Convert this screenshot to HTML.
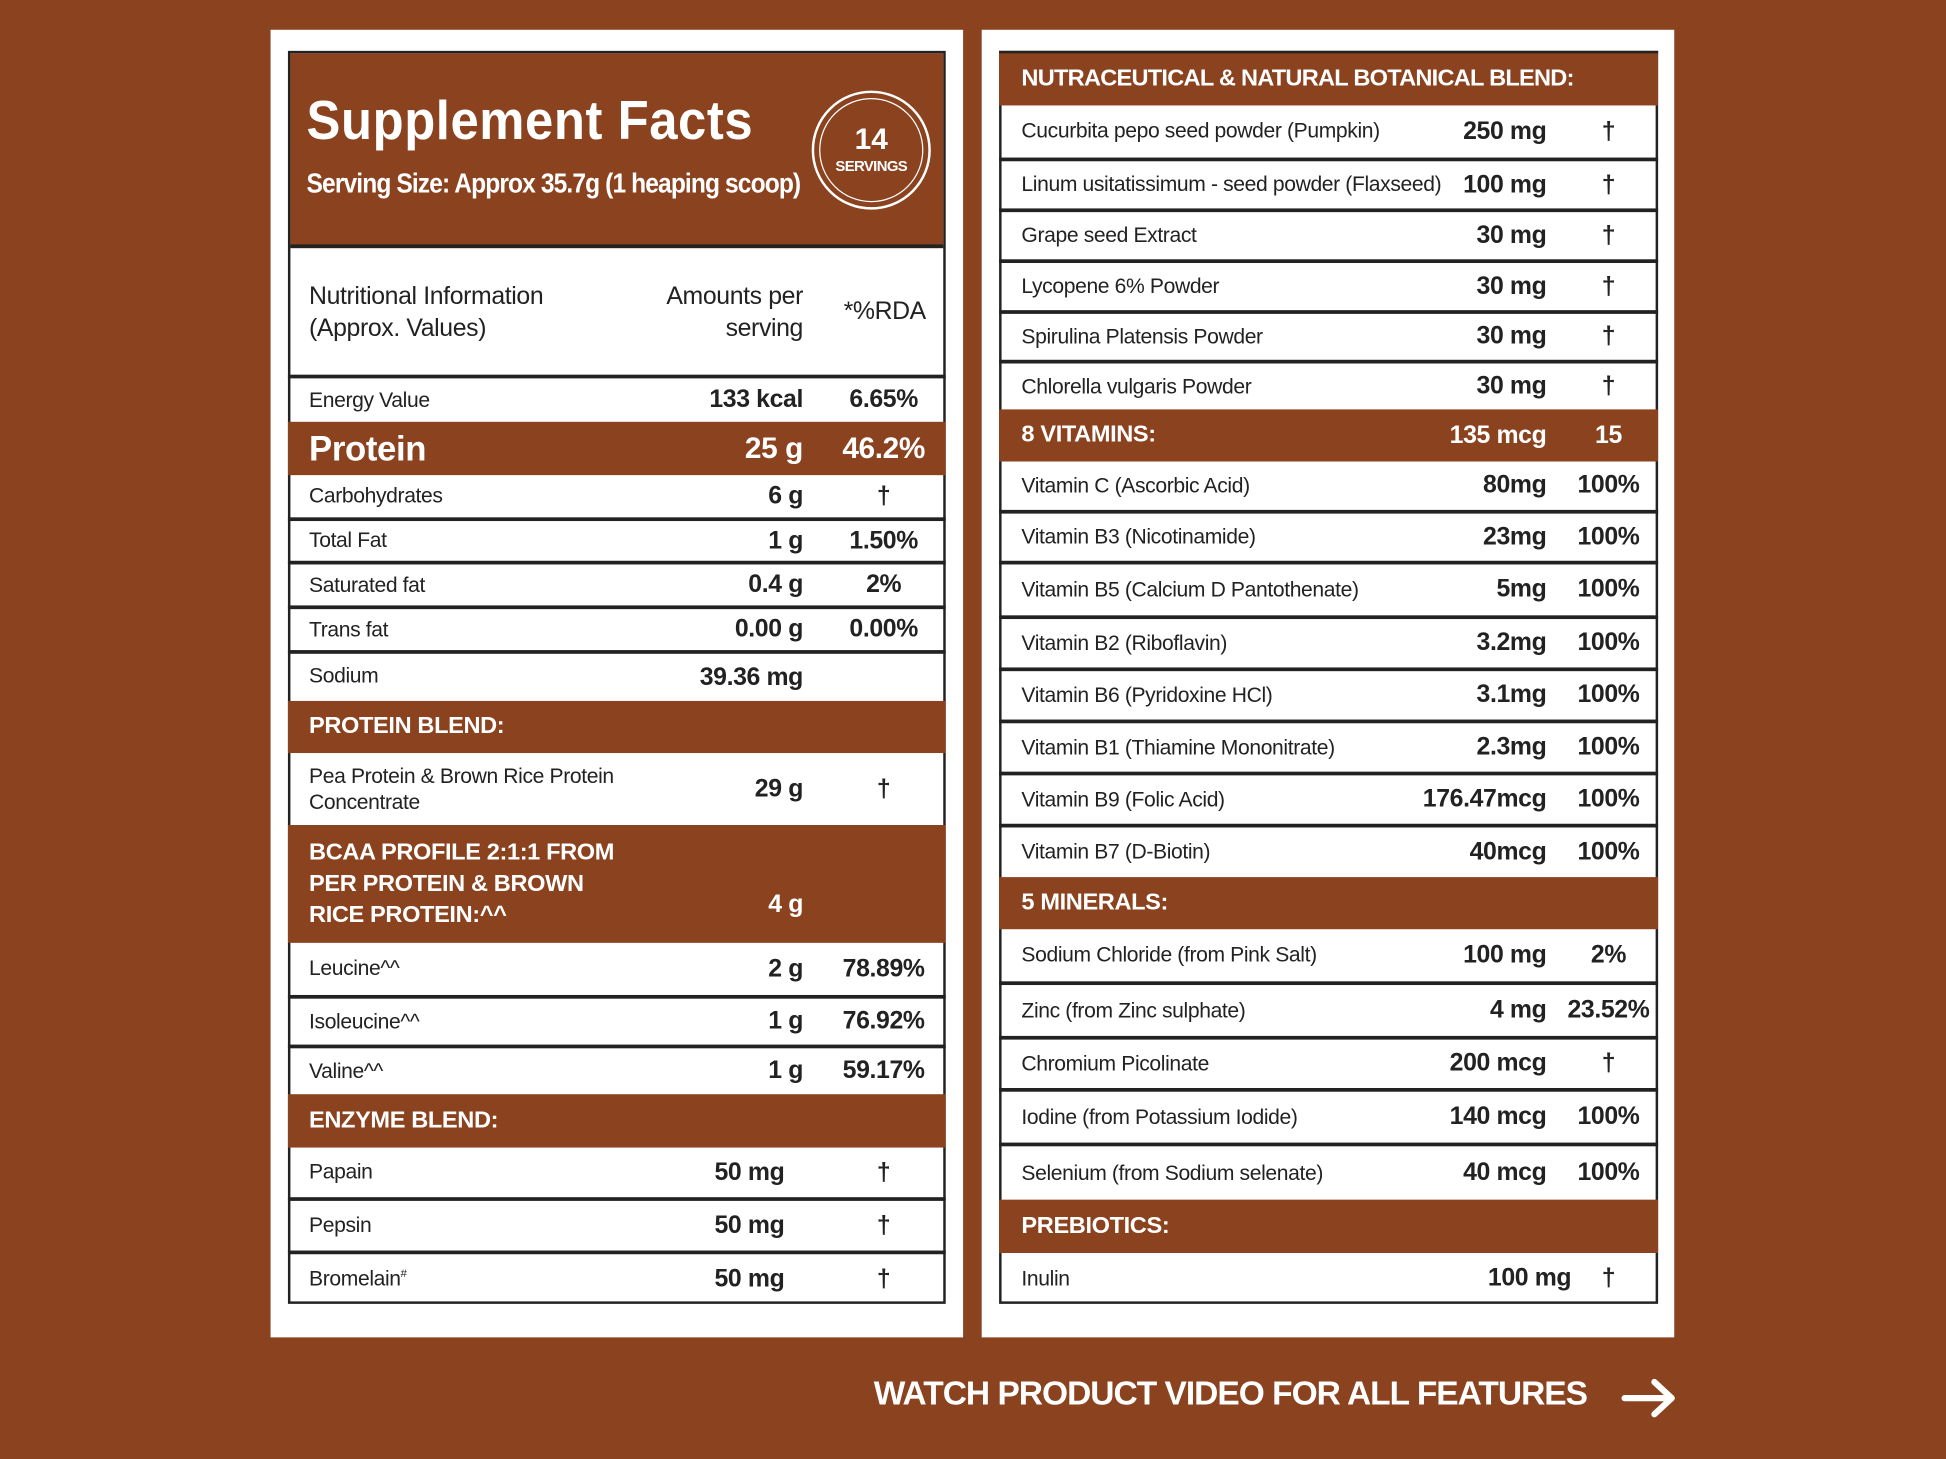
<!DOCTYPE html>
<html><head><meta charset="utf-8"><style>
*{margin:0;padding:0;box-sizing:border-box}
body{width:1946px;height:1459px;overflow:hidden;background:#8a421f;font-family:"Liberation Sans",sans-serif}
#w{position:absolute;left:0;top:0;width:1568px;height:1176px;transform:scale(1.2411,1.2406);transform-origin:0 0}
.panel{position:absolute;background:#fff;top:24px;height:1054px;width:558px}
.t{position:absolute;top:41px;height:1010px;border:2px solid #222;background:#fff}
.r{position:absolute;left:0;right:0;display:flex;align-items:center;border-top:3px solid #222;color:#222;font-size:17px;letter-spacing:-0.3px}
.b{background:#8a421f;color:#fff;font-weight:bold;font-size:19px;border-top:none}
.l{position:absolute}
.a{position:absolute;font-weight:bold;font-size:20px;text-align:right}
.p{position:absolute;font-weight:bold;font-size:20px;text-align:center}
</style></head><body><div id="w">
<div class="panel" style="left:218px"></div>
<div class="panel" style="left:791px"></div>

<!-- LEFT -->
<div class="t" style="left:232px;width:530px">
 <div style="position:absolute;left:0;right:0;top:0;height:157px;background:#8a421f;border-bottom:3px solid #222"></div>
 <div style="position:absolute;left:13px;top:30px;color:#fff;font-weight:bold;font-size:44px;letter-spacing:0.5px;transform:scaleX(0.93);transform-origin:0 0;white-space:nowrap">Supplement Facts</div>
 <div style="position:absolute;left:13px;top:92px;color:#fff;font-weight:bold;font-size:22px;letter-spacing:-0.8px;transform:scaleX(0.9);transform-origin:0 0;white-space:nowrap">Serving Size: Approx 35.7g (1 heaping scoop)</div>
 <div style="position:absolute;left:420px;top:30px;width:96px;height:96px;border-radius:50%;border:2px solid #fff;padding:4px"><div style="width:100%;height:100%;border-radius:50%;border:1.5px solid #fff;color:#fff;text-align:center;font-weight:bold"><div style="font-size:24px;margin-top:19px">14</div><div style="font-size:12px;letter-spacing:-0.5px">SERVINGS</div></div></div>
</div>
<div style="position:absolute;left:232px;width:530px;top:0">
 <div class="r" style="top:198px;height:104px;font-size:20px;border-top:none"><span class="l" style="left:17px;top:28px;line-height:26px">Nutritional Information<br>(Approx. Values)</span><span class="l" style="right:115px;top:28px;line-height:26px;text-align:right">Amounts per<br>serving</span><span class="l" style="right:16px;top:42px">*%RDA</span></div>
 <div class="r" style="top:302px;height:38px"><span class="l" style="left:17px">Energy Value</span><span class="a" style="right:115px">133 kcal</span><span class="p" style="right:10px;width:80px">6.65%</span></div>
 <div class="r b" style="top:340px;height:43px;font-size:28px"><span class="l" style="left:17px">Protein</span><span class="a" style="right:115px;font-size:24px">25 g</span><span class="p" style="right:10px;width:80px;font-size:24px">46.2%</span></div>
 <div class="r" style="top:383px;height:34px;border-top:none"><span class="l" style="left:17px">Carbohydrates</span><span class="a" style="right:115px">6 g</span><span class="p" style="right:10px;width:80px">†</span></div>
 <div class="r" style="top:417px;height:35px"><span class="l" style="left:17px">Total Fat</span><span class="a" style="right:115px">1 g</span><span class="p" style="right:10px;width:80px">1.50%</span></div>
 <div class="r" style="top:452px;height:36px"><span class="l" style="left:17px">Saturated fat</span><span class="a" style="right:115px">0.4 g</span><span class="p" style="right:10px;width:80px">2%</span></div>
 <div class="r" style="top:488px;height:36px"><span class="l" style="left:17px">Trans fat</span><span class="a" style="right:115px">0.00 g</span><span class="p" style="right:10px;width:80px">0.00%</span></div>
 <div class="r" style="top:524px;height:41px"><span class="l" style="left:17px;top:8px">Sodium</span><span class="a" style="right:115px">39.36 mg</span></div>
 <div class="r b" style="top:565px;height:42px"><span class="l" style="left:17px">PROTEIN BLEND:</span></div>
 <div class="r" style="top:607px;height:58px;border-top:none"><span class="l" style="left:17px;line-height:21px">Pea Protein &amp; Brown Rice Protein<br>Concentrate</span><span class="a" style="right:115px">29 g</span><span class="p" style="right:10px;width:80px">†</span></div>
 <div class="r b" style="top:665px;height:95px"><span class="l" style="left:17px;line-height:25px">BCAA PROFILE 2:1:1 FROM<br>PER PROTEIN &amp; BROWN<br>RICE PROTEIN:^^</span><span class="a" style="right:115px;top:53px">4 g</span></div>
 <div class="r" style="top:760px;height:42px;border-top:none"><span class="l" style="left:17px">Leucine^^</span><span class="a" style="right:115px">2 g</span><span class="p" style="right:10px;width:80px">78.89%</span></div>
 <div class="r" style="top:802px;height:40px"><span class="l" style="left:17px">Isoleucine^^</span><span class="a" style="right:115px">1 g</span><span class="p" style="right:10px;width:80px">76.92%</span></div>
 <div class="r" style="top:842px;height:40px"><span class="l" style="left:17px">Valine^^</span><span class="a" style="right:115px">1 g</span><span class="p" style="right:10px;width:80px">59.17%</span></div>
 <div class="r b" style="top:882px;height:43px"><span class="l" style="left:17px">ENZYME BLEND:</span></div>
 <div class="r" style="top:925px;height:40px;border-top:none"><span class="l" style="left:17px">Papain</span><span class="a" style="right:130px">50 mg</span><span class="p" style="right:10px;width:80px">†</span></div>
 <div class="r" style="top:965px;height:43px"><span class="l" style="left:17px">Pepsin</span><span class="a" style="right:130px">50 mg</span><span class="p" style="right:10px;width:80px">†</span></div>
 <div class="r" style="top:1008px;height:43px"><span class="l" style="left:17px">Bromelain<sup style="font-size:9px">#</sup></span><span class="a" style="right:130px">50 mg</span><span class="p" style="right:10px;width:80px">†</span></div>
</div>

<!-- RIGHT -->
<div class="t" style="left:805px;width:531px"></div>
<div style="position:absolute;left:805px;width:531px;top:0">
 <div class="r b" style="top:41px;height:44px;border-top:2px solid #222"><span class="l" style="left:18px;letter-spacing:-0.6px">NUTRACEUTICAL &amp; NATURAL BOTANICAL BLEND:</span></div>
 <div class="r" style="top:85px;height:42px;border-top:none"><span class="l" style="left:18px">Cucurbita pepo seed powder (Pumpkin)</span><span class="a" style="right:90px">250 mg</span><span class="p" style="right:0;width:80px">†</span></div>
 <div class="r" style="top:127px;height:41px"><span class="l" style="left:18px">Linum usitatissimum - seed powder (Flaxseed)</span><span class="a" style="right:90px">100 mg</span><span class="p" style="right:0;width:80px">†</span></div>
 <div class="r" style="top:168px;height:41px"><span class="l" style="left:18px">Grape seed Extract</span><span class="a" style="right:90px">30 mg</span><span class="p" style="right:0;width:80px">†</span></div>
 <div class="r" style="top:209px;height:41px"><span class="l" style="left:18px">Lycopene 6% Powder</span><span class="a" style="right:90px">30 mg</span><span class="p" style="right:0;width:80px">†</span></div>
 <div class="r" style="top:250px;height:40px"><span class="l" style="left:18px">Spirulina Platensis Powder</span><span class="a" style="right:90px">30 mg</span><span class="p" style="right:0;width:80px">†</span></div>
 <div class="r" style="top:290px;height:40px"><span class="l" style="left:18px">Chlorella vulgaris Powder</span><span class="a" style="right:90px">30 mg</span><span class="p" style="right:0;width:80px">†</span></div>
 <div class="r b" style="top:330px;height:42px"><span class="l" style="left:18px">8 VITAMINS:</span><span class="a" style="right:90px">135 mcg</span><span class="p" style="right:0;width:80px">15</span></div>
 <div class="r" style="top:372px;height:39px;border-top:none"><span class="l" style="left:18px">Vitamin C (Ascorbic Acid)</span><span class="a" style="right:90px">80mg</span><span class="p" style="right:0;width:80px">100%</span></div>
 <div class="r" style="top:411px;height:41px"><span class="l" style="left:18px">Vitamin B3 (Nicotinamide)</span><span class="a" style="right:90px">23mg</span><span class="p" style="right:0;width:80px">100%</span></div>
 <div class="r" style="top:452px;height:44px"><span class="l" style="left:18px">Vitamin B5 (Calcium D Pantothenate)</span><span class="a" style="right:90px">5mg</span><span class="p" style="right:0;width:80px">100%</span></div>
 <div class="r" style="top:496px;height:42px"><span class="l" style="left:18px">Vitamin B2 (Riboflavin)</span><span class="a" style="right:90px">3.2mg</span><span class="p" style="right:0;width:80px">100%</span></div>
 <div class="r" style="top:538px;height:42px"><span class="l" style="left:18px">Vitamin B6 (Pyridoxine HCl)</span><span class="a" style="right:90px">3.1mg</span><span class="p" style="right:0;width:80px">100%</span></div>
 <div class="r" style="top:580px;height:42px"><span class="l" style="left:18px">Vitamin B1 (Thiamine Mononitrate)</span><span class="a" style="right:90px">2.3mg</span><span class="p" style="right:0;width:80px">100%</span></div>
 <div class="r" style="top:622px;height:42px"><span class="l" style="left:18px">Vitamin B9 (Folic Acid)</span><span class="a" style="right:90px">176.47mcg</span><span class="p" style="right:0;width:80px">100%</span></div>
 <div class="r" style="top:664px;height:43px"><span class="l" style="left:18px">Vitamin B7 (D-Biotin)</span><span class="a" style="right:90px">40mcg</span><span class="p" style="right:0;width:80px">100%</span></div>
 <div class="r b" style="top:707px;height:42px"><span class="l" style="left:18px">5 MINERALS:</span></div>
 <div class="r" style="top:749px;height:42px;border-top:none"><span class="l" style="left:18px">Sodium Chloride (from Pink Salt)</span><span class="a" style="right:90px">100 mg</span><span class="p" style="right:0;width:80px">2%</span></div>
 <div class="r" style="top:791px;height:44px"><span class="l" style="left:18px">Zinc (from Zinc sulphate)</span><span class="a" style="right:90px">4 mg</span><span class="p" style="right:0;width:80px">23.52%</span></div>
 <div class="r" style="top:835px;height:42px"><span class="l" style="left:18px">Chromium Picolinate</span><span class="a" style="right:90px">200 mcg</span><span class="p" style="right:0;width:80px">†</span></div>
 <div class="r" style="top:877px;height:44px"><span class="l" style="left:18px">Iodine (from Potassium Iodide)</span><span class="a" style="right:90px">140 mcg</span><span class="p" style="right:0;width:80px">100%</span></div>
 <div class="r" style="top:921px;height:46px"><span class="l" style="left:18px">Selenium (from Sodium selenate)</span><span class="a" style="right:90px">40 mcg</span><span class="p" style="right:0;width:80px">100%</span></div>
 <div class="r b" style="top:967px;height:43px"><span class="l" style="left:18px">PREBIOTICS:</span></div>
 <div class="r" style="top:1010px;height:41px;border-top:none"><span class="l" style="left:18px">Inulin</span><span class="a" style="right:70px">100 mg</span><span class="p" style="right:0;width:80px">†</span></div>
</div>

<div style="position:absolute;left:704px;top:1108px;color:#fff;font-weight:bold;font-size:27px;letter-spacing:-0.8px">WATCH PRODUCT VIDEO FOR ALL FEATURES</div>
<svg style="position:absolute;left:1306px;top:1110px" width="46" height="34" viewBox="0 0 46 34"><path d="M3 17H40M27 4L41 17L27 30" stroke="#fff" stroke-width="5" fill="none" stroke-linecap="round" stroke-linejoin="round"/></svg>
</div></body></html>
